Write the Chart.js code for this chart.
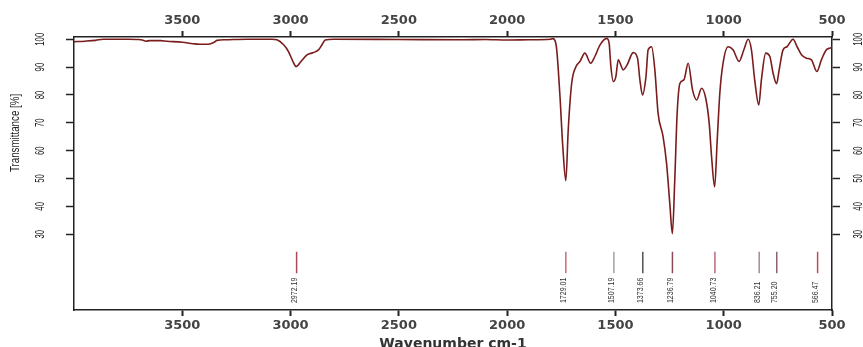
<!DOCTYPE html>
<html lang="en">
<head>
<meta charset="UTF-8">
<title>IR spectrum</title>
<script src="https://cdn.jsdelivr.net/npm/chart.js"></script>
<style>
  body { margin: 0; background: #fff; }
</style>
</head>
<body>
<canvas id="irChart" width="863" height="347"></canvas>
<script>
// spectrum (wavenumber cm-1, transmittance %)
const wavenumbers = [
  4000, 3950, 3900, 3866, 3750, 3700, 3685, 3668, 3650, 3600, 3570, 3500, 3450, 3420, 3380, 3355, 3340, 3300, 3200,
  3100, 3087, 3063, 3032, 3009, 2989, 2974, 2952, 2924, 2894, 2871, 2855, 2840, 2800,
  2500, 2200, 2100, 2000, 1900, 1800, 1790, 1779, 1771, 1756, 1743, 1729, 1718, 1702, 1682, 1664, 1641,
  1614, 1595, 1571, 1540, 1529, 1521, 1510, 1498, 1487, 1464, 1446, 1418, 1398, 1387, 1375, 1359, 1349,
  1333, 1318, 1303, 1280, 1264, 1249, 1237, 1226, 1215, 1202, 1184, 1164, 1144, 1125, 1102, 1083, 1067,
  1056, 1042, 1030, 1018, 1003, 980, 957, 929, 907, 887, 872, 857, 838, 826, 806, 787, 772, 756, 744,
  726, 708, 680, 661, 641, 618, 595, 570, 549, 526, 511, 500
];
const transmittance = [
  99.1, 99.3, 99.6, 100, 100, 99.9, 99.7, 99.3, 99.5, 99.5, 99.3, 98.9, 98.4, 98.2, 98.2, 98.8, 99.6, 99.8, 100,
  100, 100, 99.8, 98, 95.5, 92, 90.2, 92, 94.4, 95.2, 96.2, 98, 99.7, 100,
  99.9, 99.8, 99.9, 99.7, 99.8, 100, 100.2, 99.5, 96.2, 79.4, 61.4, 49.2, 67.4, 84.2, 90.2, 92, 95,
  91.4, 93.8, 98, 100.3, 98.5, 90.2, 84.8, 86.6, 92.6, 89, 90.8, 95.2, 93.2, 85.4, 80, 86.6, 96.2,
  97.3, 89, 73.4, 65, 55.5, 41.1, 30.2, 49.5, 73.4, 84.2, 85.4, 91.4, 81.8, 78.2, 82.4, 78.8, 69.8,
  57.8, 47, 63.8, 80.6, 91.4, 97.3, 96.2, 92, 96.2, 100, 96.2, 85.4, 76.4, 85.4, 95, 93.8, 87.8, 84, 89,
  96.2, 97.3, 100, 97.3, 94.4, 93.2, 92.6, 88.4, 92.6, 96.2, 96.8, 97
];

const peakPositions = [2972.19, 1729.01, 1507.19, 1373.66, 1236.79, 1040.73, 836.21, 755.20, 566.47];
const peakLabels = ['2972.19', '1729.01', '1507.19', '1373.66', '1236.79', '1040.73', '836.21', '755.20', '566.47'];
const peakColors = ['#a84a55', '#c0707a', '#a8a0a0', '#555050', '#8c4a58', '#b86a7a', '#a88890', '#8c6070', '#c04a5a'];

const xTicks = [3500, 3000, 2500, 2000, 1500, 1000, 500];
const yTicks = [30, 40, 50, 60, 70, 80, 90, 100];

// marker strip below the spectrum (in transmittance units)
const markerLow = 16, markerHigh = 23.7, labelBase = 5.3;

const markerData = [];
peakPositions.forEach(p => {
  markerData.push({ x: p, y: markerLow }, { x: p, y: markerHigh }, { x: p, y: null });
});

const axisFont = { family: 'DejaVu Sans', size: 13, weight: 'bold' };
const ink = '#222';

function xAxis(position, pad) {
  return {
    type: 'linear', position: position, min: 500, max: 4000, reverse: true,
    afterBuildTicks: s => { s.ticks = xTicks.map(v => ({ value: v })); },
    afterFit: s => { s.height = 37; },
    grid: { drawOnChartArea: false, drawTicks: true, tickLength: 6, tickWidth: 2, tickColor: ink },
    border: { display: true, color: ink, width: 1.5 },
    ticks: { font: axisFont, color: '#444', padding: pad, maxRotation: 0, autoSkip: false,
             callback: v => String(v) }
  };
}

function yAxis(position, width) {
  return {
    type: 'linear', position: position, min: 2.8, max: 100.8,
    afterBuildTicks: s => { s.ticks = yTicks.map(v => ({ value: v })); },
    afterFit: s => { s.width = width; },
    grid: { drawOnChartArea: false, drawTicks: true, tickLength: 8, tickWidth: 1.5, tickColor: ink },
    border: { display: true, color: ink, width: 1.5 },
    ticks: { display: false }
  };
}

const bottomAxis = xAxis('bottom', 2);
bottomAxis.title = {
  display: true, text: 'Wavenumber cm-1', color: '#333',
  font: { family: 'DejaVu Sans', size: 14, weight: 'bold', lineHeight: 1 },
  padding: { top: 0, bottom: -4 }
};

// rotated y tick labels, y title and peak labels (narrowed along the text)
const sideText = {
  id: 'sideText',
  afterDraw(chart) {
    const ctx = chart.ctx;
    const xs = chart.scales.x, ys = chart.scales.y;
    function vtext(str, px, py, align, squeeze) {
      ctx.save();
      ctx.translate(px, py);
      ctx.rotate(-Math.PI / 2);
      ctx.scale(squeeze, 1);
      ctx.textAlign = align;
      ctx.fillText(str, 0, 0);
      ctx.restore();
    }
    ctx.save();
    ctx.fillStyle = '#222';
    ctx.textBaseline = 'middle';
    ctx.font = '12.5px "Liberation Sans", Arial, sans-serif';
    yTicks.forEach(v => {
      const py = ys.getPixelForValue(v);
      vtext(String(v), 41, py, 'center', 0.62);
      vtext(String(v), 859, py, 'center', 0.62);
    });
    ctx.font = '12.5px "Liberation Sans", Arial, sans-serif';
    vtext('Transmittance [%]', 16, 133, 'center', 0.78);

    ctx.fillStyle = '#333';
    ctx.font = '9.5px "Liberation Sans", Arial, sans-serif';
    const by = ys.getPixelForValue(labelBase);
    peakPositions.forEach((p, i) => {
      vtext(peakLabels[i], xs.getPixelForValue(p) - 2, by, 'left', 0.74);
    });
    ctx.restore();
  }
};

new Chart(document.getElementById('irChart'), {
  type: 'line',
  data: {
    datasets: [
      {
        data: wavenumbers.map((w, i) => ({ x: w, y: transmittance[i] })),
        borderColor: '#7a1c1c',
        borderWidth: 1.6,
        pointRadius: 0,
        cubicInterpolationMode: 'monotone',
        xAxisID: 'x', yAxisID: 'y'
      },
      {
        data: markerData,
        borderWidth: 1.5,
        pointRadius: 0,
        spanGaps: false,
        segment: { borderColor: c => peakColors[Math.floor(c.p0DataIndex / 3)] },
        xAxisID: 'x', yAxisID: 'y'
      }
    ]
  },
  options: {
    responsive: false,
    animation: false,
    layout: { padding: 0 },
    plugins: { legend: { display: false }, tooltip: { enabled: false } },
    scales: {
      x: bottomAxis,
      x2: xAxis('top', 3),
      y: yAxis('left', 74),
      y2: yAxis('right', 31)
    }
  },
  plugins: [sideText]
});
</script>
</body>
</html>
